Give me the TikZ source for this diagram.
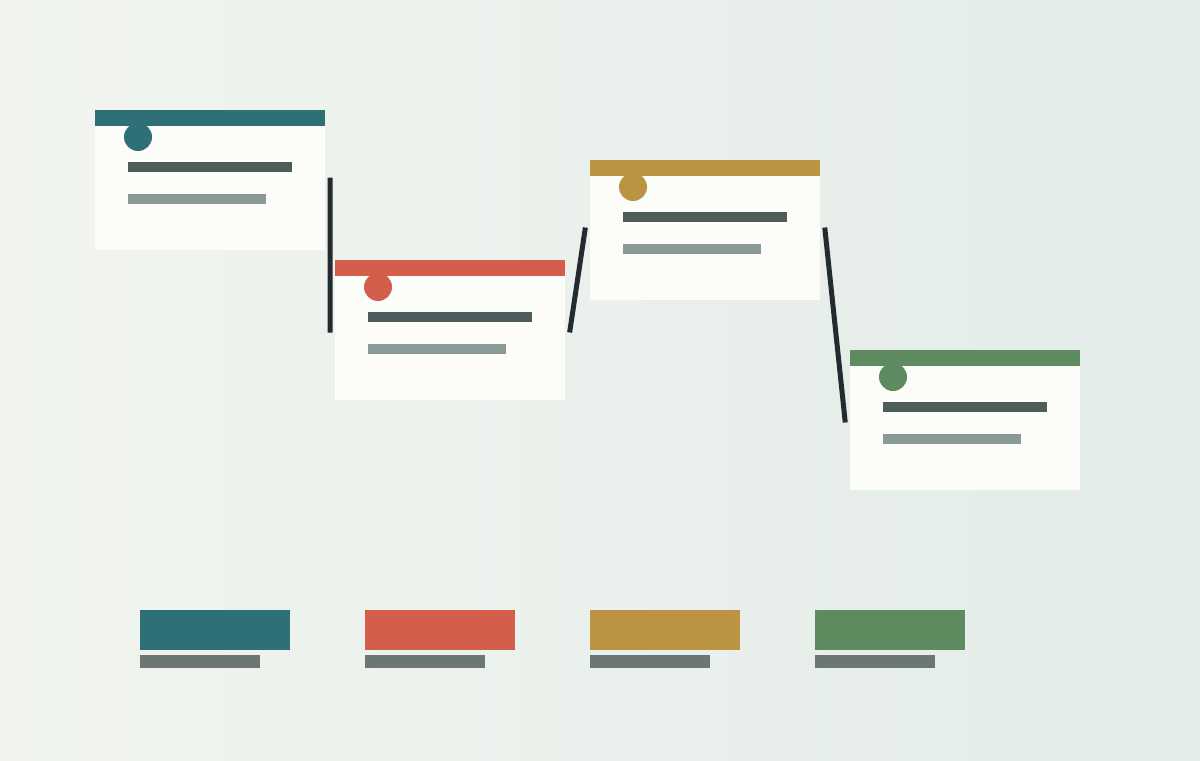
\documentclass[tikz,border=0pt]{standalone}
\usepackage{tikz}
\definecolor{bgl}{HTML}{F1F4EE}
\definecolor{bgr}{HTML}{E3ECE8}
\definecolor{paper}{HTML}{FCFCF8}
\definecolor{teal}{HTML}{2F7078}
\definecolor{coral}{HTML}{D35E4B}
\definecolor{gold}{HTML}{BA9443}
\definecolor{sage}{HTML}{5E8A60}
\definecolor{ink}{HTML}{232B30}
\definecolor{bardark}{HTML}{4E5C5A}
\definecolor{barlight}{HTML}{8A9A96}
\definecolor{keygray}{HTML}{6B7774}

\tikzset{
  card/.style={rectangle, fill=paper, minimum width=4.6cm, minimum height=2.8cm, outer sep=0.1cm, inner sep=0},
  key/.style={rectangle, minimum width=3cm, minimum height=0.8cm, inner sep=0, outer sep=0},
  link/.style={draw=ink, line width=0.1cm, line cap=rect}
}

\begin{document}
\begin{tikzpicture}

\shade[left color=bgl, right color=bgr] (0,0) rectangle (24,15.2);
\useasboundingbox (0,0) rectangle (24,15.2);

\foreach \n/\x/\y/\col in {1/4.2/11.6/teal, 2/9.0/8.6/coral, 3/14.1/10.6/gold, 4/19.3/6.8/sage}{
  \node[card] (C\n) at (\x, \y) {};
  \fill[\col] ([shift={(0.1,-0.1)}]C\n.north west) rectangle ([shift={(-0.1,-0.42)}]C\n.north east);
  \fill[\col] ([shift={(0.96,-0.64)}]C\n.north west) circle (0.28);
  \fill[bardark] ([shift={(0.76,-1.14)}]C\n.north west) rectangle +(3.28,-0.2);
  \fill[barlight] ([shift={(0.76,-1.78)}]C\n.north west) rectangle +(2.76,-0.2);
}

\draw[link] (C1.east) -- (C2.west);
\draw[link] (C2.east) -- (C3.west);
\draw[link] (C3.east) -- (C4.west);

% legend
\foreach \n/\x/\col in {1/4.3/teal, 2/8.8/coral, 3/13.3/gold, 4/17.8/sage}{
  \node[key, fill=\col] (K\n) at (\x, 2.6) {};
  \fill[keygray] ([yshift=-0.1cm]K\n.south west) rectangle +(2.4,-0.26);
}

\end{tikzpicture}
\end{document}
